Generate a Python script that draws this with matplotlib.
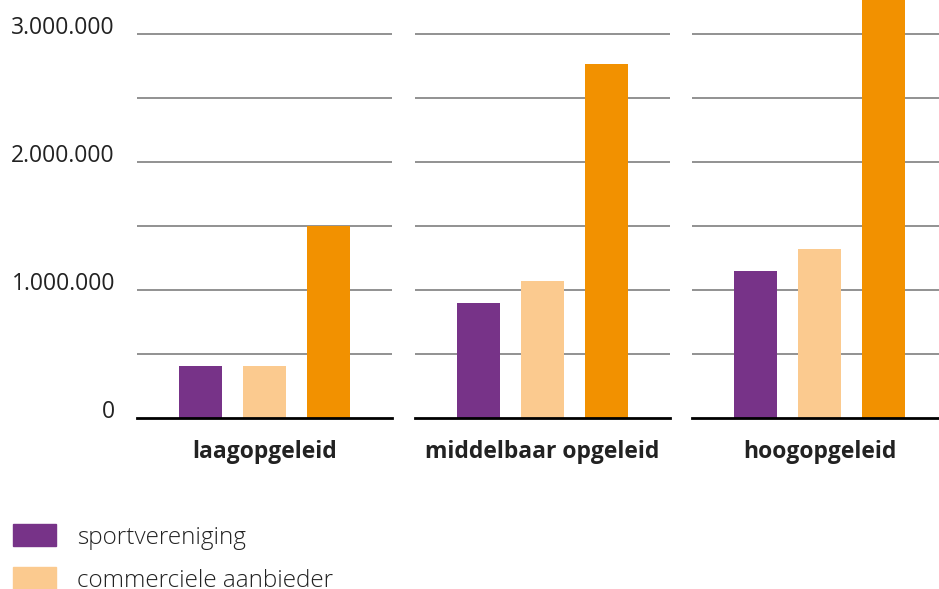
import matplotlib.pyplot as plt
from matplotlib.patches import Rectangle

plt.rcParams['font.family'] = ['Open Sans', 'DejaVu Sans']

groups = ["laagopgeleid", "middelbaar opgeleid", "hoogopgeleid"]
series = ["sportvereniging", "commerciele aanbieder", "ongeorganiseerd"]
sportvereniging = [400000, 895000, 1145000]
commercieel = [400000, 1065000, 1315000]
ongeorganiseerd = [1495000, 2760000, 3600000]
legend_labels = ["sportvereniging", "commerciele aanbieder"]
grid_vals = [500000, 1000000, 1500000, 2000000, 2500000, 3000000]
ytick_vals = [0, 1000000, 2000000, 3000000]
ytick_labels = ["0", "1.000.000", "2.000.000", "3.000.000"]

colors = ["#773388", "#fbca8f", "#f29100"]
values = [sportvereniging, commercieel, ongeorganiseerd]

W, H = 939, 589
fig = plt.figure(figsize=(W / 100, H / 100), dpi=100)

panel_left = [137, 415, 692]
panel_w = 255
base_y = 417.5
ytop = base_y / 128 * 1e6

for i, g in enumerate(groups):
    ax = fig.add_axes([panel_left[i] / W, (H - base_y) / H, panel_w / W, base_y / H])
    for j in range(3):
        ax.bar(j + 1, values[j][i], width=0.67, color=colors[j], zorder=3)
    ax.set_xlim(0, 4)
    ax.set_ylim(0, ytop)
    for v in grid_vals:
        ax.axhline(v, color="#7f7f7f", linewidth=1.2, zorder=0)
    ax.set_xticks([])
    ax.set_yticks([])
    for s in ["top", "right", "left"]:
        ax.spines[s].set_visible(False)
    ax.spines["bottom"].set_linewidth(2)
    ax.spines["bottom"].set_color("black")
    ax.spines["bottom"].set_zorder(4)
    if i == 0:
        for v, lab in zip(ytick_vals, ytick_labels):
            ax.text(-22 / panel_w, v, lab, transform=ax.get_yaxis_transform(),
                    ha="right", va="baseline", fontsize=16.5, color="#222222")
    ax.text(0.5, -35 / base_y, g, transform=ax.transAxes, ha="center", va="center",
            fontsize=16.5, fontweight="bold", color="#222222")

# legend
for k, lab in enumerate(legend_labels):
    y = 524 + k * 43
    fig.add_artist(Rectangle((13 / W, 1 - (y + 22) / H), 43 / W, 22 / H,
                             color=colors[k], transform=fig.transFigure))
    fig.text(77 / W, 1 - (y + 14) / H, lab, ha="left", va="center",
             fontsize=17.5, color="#222222", fontweight="light")

fig.savefig("out.png", dpi=100)
